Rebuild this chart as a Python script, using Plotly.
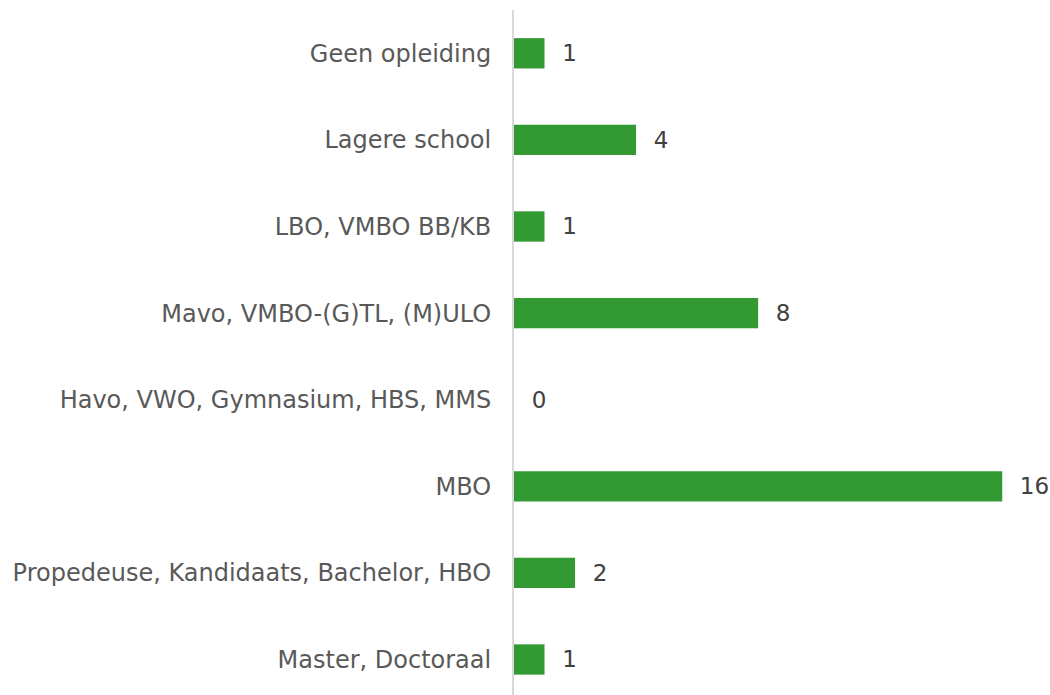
import plotly.graph_objects as go

categories = [
    "Geen opleiding",
    "Lagere school",
    "LBO, VMBO BB/KB",
    "Mavo, VMBO-(G)TL, (M)ULO",
    "Havo, VWO, Gymnasium, HBS, MMS",
    "MBO",
    "Propedeuse, Kandidaats, Bachelor, HBO",
    "Master, Doctoraal",
]
values = [1, 4, 1, 8, 0, 16, 2, 1]

fig = go.Figure(go.Bar(
    y=categories,
    x=values,
    orientation="h",
    marker=dict(color="#339933", line=dict(width=0)),
    width=0.35,
    text=[f"  {v}" for v in values],
    textposition="outside",
    textfont=dict(family="DejaVu Sans", size=23, color="#404040"),
    cliponaxis=False,
    constraintext="none",
))

fig.update_layout(
    width=1050,
    height=695,
    margin=dict(l=514, r=2, t=10, b=0),
    paper_bgcolor="white",
    plot_bgcolor="white",
    showlegend=False,
    font=dict(family="DejaVu Sans", size=24, color="#595959"),
    xaxis=dict(range=[0, 17.5], showgrid=False, zeroline=False,
               showticklabels=False, showline=False, fixedrange=True),
    yaxis=dict(type="category", range=[7.41, -0.5], showgrid=False,
               zeroline=False, showline=True, linecolor="#d9d9d9", linewidth=2,
               ticks="", ticklabelstandoff=16, automargin=False,
               tickfont=dict(family="DejaVu Sans", size=24, color="#595959")),
)

fig.write_html(
    "out.html",
    config={"displayModeBar": False},
    post_script="document.body.style.margin='0';document.body.style.overflow='hidden';",
)
